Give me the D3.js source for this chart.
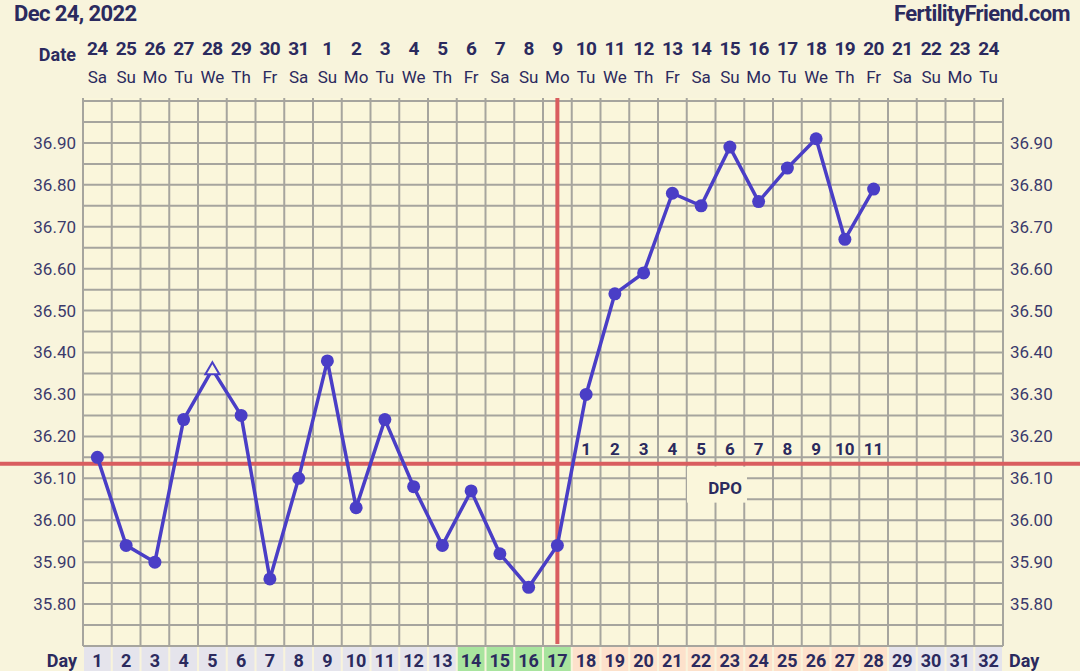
<!DOCTYPE html>
<html><head><meta charset="utf-8">
<script src="https://cdn.jsdelivr.net/npm/d3@7"></script>
<style>
html,body{margin:0;padding:0;background:#f8f4dc;}
svg{display:block;font-family:Roboto, "Noto Sans", sans-serif;}
</style></head>
<body><svg id="c" width="1080" height="671"></svg>
<script>
const titleDate = "Dec 24, 2022";
const siteName = "FertilityFriend.com";
const dates = ["24","25","26","27","28","29","30","31","1","2","3","4","5","6","7","8","9","10","11","12","13","14","15","16","17","18","19","20","21","22","23","24"];
const weekdays = ["Sa","Su","Mo","Tu","We","Th","Fr","Sa","Su","Mo","Tu","We","Th","Fr","Sa","Su","Mo","Tu","We","Th","Fr","Sa","Su","Mo","Tu","We","Th","Fr","Sa","Su","Mo","Tu"];
const days = d3.range(1, 33);
const tempDays = d3.range(1, 29);
const temps = [36.15,35.94,35.90,36.24,36.36,36.25,35.86,36.10,36.38,36.03,36.24,36.08,35.94,36.07,35.92,35.84,35.94,36.30,36.54,36.59,36.78,36.75,36.89,36.76,36.84,36.91,36.67,36.79];
const openDays = [5];
const yTicks = [35.80,35.90,36.00,36.10,36.20,36.30,36.40,36.50,36.60,36.70,36.80,36.90];
const coverline = 36.135;
const ovulationDay = 17;
const fertileDays = [14,15,16,17];
const lutealDays = d3.range(18, 29);
const dpoLabels = ["1","2","3","4","5","6","7","8","9","10","11"];

const svg = d3.select("#c");
const L = 83, R = 1003, T = 101, B = 646;
const ink = "#2b2a5e";
const x = d3.scaleBand().domain(days).range([L, R]);
const y = d3.scaleLinear().domain([35.70, 37.00]).range([B, T]);
const cx = d => x(d) + x.bandwidth()/2;

// plot background
svg.append("rect").attr("x", L).attr("y", 98).attr("width", R-L).attr("height", B-98).attr("fill", "#faf6db");

// grid
const g = svg.append("g").attr("stroke", "#a6a59e").attr("stroke-width", 2);
const hLines = d3.range(0, 27).map(i => 35.70 + i*0.05);
g.selectAll("line.h").data(hLines).join("line")
  .attr("x1", L).attr("x2", R).attr("y1", d => y(d)).attr("y2", d => y(d));
g.selectAll("line.v").data(d3.range(0, 33)).join("line")
  .attr("x1", i => L + i*x.bandwidth()).attr("x2", i => L + i*x.bandwidth())
  .attr("y1", 98).attr("y2", B);

// day row
const dayColor = d => fertileDays.includes(d) ? "#a8e49e" : (lutealDays.includes(d) ? "#fde1cb" : "#e5e4ec");
svg.append("g").selectAll("rect").data(days).join("rect")
  .attr("x", d => x(d)+1).attr("y", B+1).attr("width", x.bandwidth()-2).attr("height", 30)
  .attr("fill", dayColor);
svg.append("g").selectAll("text").data(days).join("text")
  .attr("x", d => cx(d)).attr("y", 667).attr("text-anchor", "middle")
  .attr("font-size", 18).attr("font-weight", 700).attr("fill", ink).text(d => d);
svg.append("text").attr("x", 77).attr("y", 667).attr("text-anchor", "end")
  .attr("font-size", 18).attr("font-weight", 700).attr("fill", ink).text("Day");
svg.append("text").attr("x", 1009).attr("y", 667)
  .attr("font-size", 18).attr("font-weight", 700).attr("fill", ink).text("Day");

// header
svg.append("text").attr("x", 14).attr("y", 21).attr("font-size", 22).attr("font-weight", 700)
  .attr("fill", ink).attr("letter-spacing", -0.6).text(titleDate);
svg.append("text").attr("x", 1070).attr("y", 21).attr("text-anchor", "end").attr("font-size", 22).attr("font-weight", 700)
  .attr("fill", ink).attr("letter-spacing", -0.6).text(siteName);
svg.append("text").attr("x", 76).attr("y", 61).attr("text-anchor", "end").attr("font-size", 18).attr("font-weight", 700)
  .attr("fill", ink).text("Date");
svg.append("g").selectAll("text").data(days).join("text")
  .attr("x", d => cx(d)).attr("y", 55).attr("text-anchor", "middle")
  .attr("font-size", 19).attr("font-weight", 700).attr("fill", ink).attr("letter-spacing", -0.5)
  .text((d,i) => dates[i]);
svg.append("g").selectAll("text").data(days).join("text")
  .attr("x", d => cx(d)).attr("y", 83).attr("text-anchor", "middle")
  .attr("font-size", 17).attr("fill", ink).text((d,i) => weekdays[i]);

// y axes
const axL = d3.axisLeft(y).tickValues(yTicks).tickFormat(d3.format(".2f")).tickSize(0).tickPadding(7);
const axR = d3.axisRight(y).tickValues(yTicks).tickFormat(d3.format(".2f")).tickSize(0).tickPadding(7);
const gl = svg.append("g").attr("transform", `translate(${L},0)`).call(axL);
const gr = svg.append("g").attr("transform", `translate(${R},0)`).call(axR);
[gl, gr].forEach(a => {
  a.select(".domain").remove();
  a.selectAll("text").attr("font-size", 17).attr("fill", "#3b3a6b").attr("font-family", "Roboto, sans-serif");
});

// coverline and ovulation line
svg.append("line").attr("x1", 0).attr("x2", 1080).attr("y1", y(coverline)).attr("y2", y(coverline))
  .attr("stroke", "#d95d5f").attr("stroke-width", 4);
svg.append("line").attr("x1", cx(ovulationDay)).attr("x2", cx(ovulationDay)).attr("y1", 98).attr("y2", 644)
  .attr("stroke", "#d95d5f").attr("stroke-width", 4);

// DPO
svg.append("g").selectAll("text").data(lutealDays).join("text")
  .attr("x", d => cx(d)).attr("y", 455).attr("text-anchor", "middle")
  .attr("font-size", 17).attr("font-weight", 700).attr("fill", ink).text((d,i) => dpoLabels[i]);
svg.append("rect").attr("x", 687).attr("y", y(coverline)+3).attr("width", 60).attr("height", 36).attr("fill", "#faf6db");
svg.append("text").attr("x", 725).attr("y", 494).attr("text-anchor", "middle")
  .attr("font-size", 17).attr("font-weight", 700).attr("fill", ink).text("DPO");

// temperature line
const pts = tempDays.map((d,i) => ({d, t: temps[i]}));
svg.append("path").datum(pts)
  .attr("d", d3.line().x(p => cx(p.d)).y(p => y(p.t)))
  .attr("fill", "none").attr("stroke", "#4a3ec6").attr("stroke-width", 3.5);
svg.append("g").selectAll("circle").data(pts.filter(p => !openDays.includes(p.d))).join("circle")
  .attr("cx", p => cx(p.d)).attr("cy", p => y(p.t)).attr("r", 6.5).attr("fill", "#4a3ec6");
svg.append("g").selectAll("path").data(pts.filter(p => openDays.includes(p.d))).join("path")
  .attr("transform", p => `translate(${cx(p.d)},${y(p.t)})`)
  .attr("d", "M0,-7 L7,5 L-7,5 Z").attr("fill", "#faf6db").attr("stroke", "#4a3ec6").attr("stroke-width", 2);
</script></body></html>
